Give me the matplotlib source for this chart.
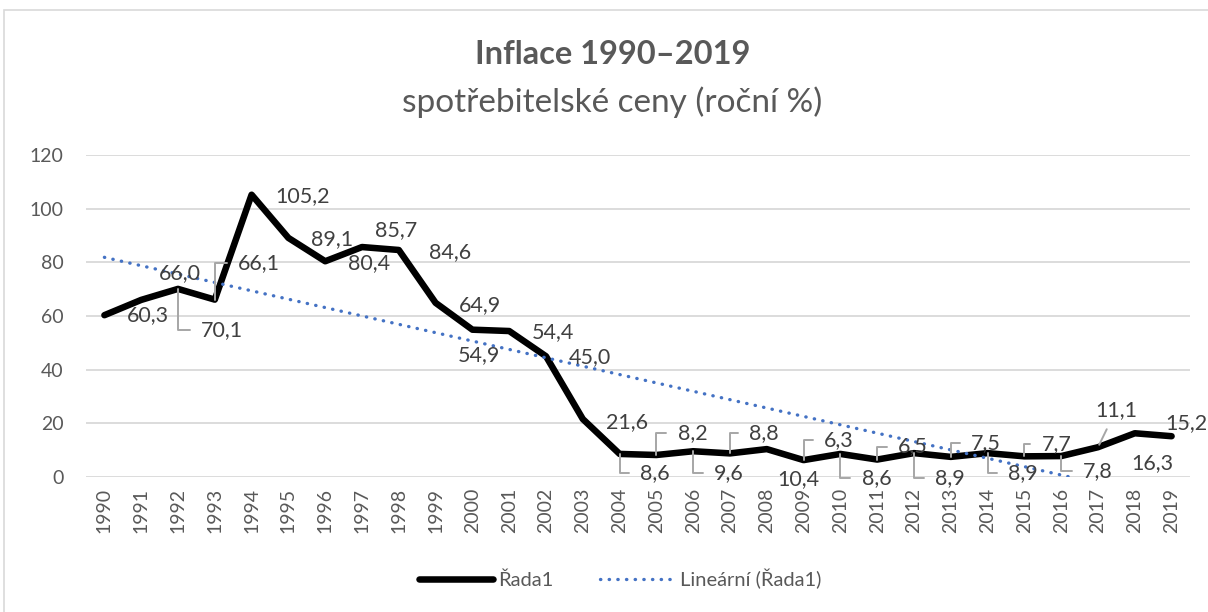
import numpy as np
import matplotlib
matplotlib.use('Agg')
import matplotlib.pyplot as plt
from matplotlib.patches import Rectangle
from matplotlib.lines import Line2D

plt.rcParams['font.family'] = ['Lato', 'DejaVu Sans']

###############################################################################
#### data
###############################################################################
roky = ['1990', '1991', '1992', '1993', '1994', '1995', '1996', '1997', '1998',
        '1999', '2000', '2001', '2002', '2003', '2004', '2005', '2006', '2007',
        '2008', '2009', '2010', '2011', '2012', '2013', '2014', '2015', '2016',
        '2017', '2018', '2019']
inflace = [60.3, 66.0, 70.1, 66.1, 105.2, 89.1, 80.4, 85.7, 84.6, 64.9,
           54.9, 54.4, 45.0, 21.6, 8.6, 8.2, 9.6, 8.8, 10.4, 6.3,
           8.6, 6.5, 8.9, 7.5, 8.9, 7.7, 7.8, 11.1, 16.3, 15.2]
y_ticks = [0, 20, 40, 60, 80, 100, 120]

title = 'Inflace 1990–2019'
subtitle = 'spotřebitelské ceny (roční %)'
serie_name = 'Řada1'
trend_name = 'Lineární (Řada1)'

# label placement, pixels from the point (dx right, dy down), leader type
label_pos = [
    (44, 0, None), (39, -27, None), (44, 41, 'elbow'), (44, -37, 'elbow'),
    (51, 1, None), (44, 1, None), (44, 2, None), (34, -17, None),
    (51, 2, None), (44, 2, None), (7, 25, None), (44, 1, None),
    (44, 1, None), (44, 3, None), (35, 19, 'elbow'), (36, -22, 'elbow'),
    (36, 22, 'elbow'), (34, -20, 'elbow'), (32, 30, None), (35, -20, 'elbow'),
    (36, 24, 'elbow'), (36, -13, 'elbow'), (36, 25, 'elbow'), (35, -14, 'elbow'),
    (35, 20, 'elbow'), (32, -12, 'elbow'), (37, 15, 'elbow'), (18, -37, 'line'),
    (18, 30, None), (15, -13, None),
]

TXT = '#595959'
LBL = '#404040'
GRID = '#D9D9D9'
LEAD = '#A6A6A6'
BLUE = '#4472C4'

###############################################################################
#### plot
###############################################################################
fig = plt.figure(figsize=(12.08, 6.12), dpi=100)
ax = fig.add_axes([86/1208, 1-477/612, (1190-86)/1208, (477-155)/612])

x = np.arange(len(inflace))
ax.plot(x, inflace, color='black', lw=4.7, solid_joinstyle='round',
        solid_capstyle='round', zorder=3)

# linear trend (as Excel), cut at the axis minimum
a, b = np.polyfit(x, inflace, 1)
x_end = -b/a
xt = np.array([0, x_end])
ax.plot(xt, a*xt + b, color=BLUE, lw=2.4, linestyle=(0, (0.1, 2.5)),
        dash_capstyle='round', zorder=4)

for i in range(len(inflace)):
    dx, dy, lead = label_pos[i]
    txt = ('%.1f' % inflace[i]).replace('.', ',')
    props = None
    if lead == 'elbow':
        props = dict(arrowstyle='-', color=LEAD, lw=1.4, shrinkA=6, shrinkB=0,
                     connectionstyle='angle,angleA=0,angleB=90,rad=0')
    elif lead == 'line':
        props = dict(arrowstyle='-', color=LEAD, lw=1.4, shrinkA=5, shrinkB=2)
    ax.annotate(txt, (x[i], inflace[i]), xytext=(dx, -dy),
                textcoords='offset pixels', ha='center', va='center',
                fontsize=15.5, color=LBL, arrowprops=props, zorder=5,
                annotation_clip=False)

ax.set_xlim(-0.5, len(inflace) - 0.5)
ax.set_ylim(0, 120)
ax.set_yticks(y_ticks)
ax.set_xticks(x)
ax.set_xticklabels(roky, rotation=90)
ax.tick_params(axis='both', length=0, labelsize=14, labelcolor=TXT)
ax.tick_params(axis='y', pad=16)
ax.tick_params(axis='x', pad=8)
ax.yaxis.grid(True, color=GRID, lw=1.3)
ax.set_axisbelow(True)
for s in ax.spines.values():
    s.set_visible(False)

fig.text(0.507, 1-54/612, title, ha='center', va='center', fontsize=23.5,
         fontweight='bold', color=TXT)
fig.text(0.507, 1-102/612, subtitle, ha='center', va='center', fontsize=24,
         color=TXT)

handles = [Line2D([], [], color='black', lw=4.7, solid_capstyle='round'),
           Line2D([], [], color=BLUE, lw=2.4, linestyle=(0, (0.1, 2.5)),
                  dash_capstyle='round')]
fig.legend(handles, [serie_name, trend_name], loc='center',
           bbox_to_anchor=(620/1208, 1-579/612), ncol=2, frameon=False,
           fontsize=14.5, labelcolor=TXT, handlelength=3.7, handletextpad=0.25,
           columnspacing=2.3)

fig.add_artist(Rectangle((4/1208, -0.05), 1.0, 1-10/612+0.05,
                         transform=fig.transFigure, fill=False, ec=GRID, lw=1.2))

plt.savefig('out.png', dpi=100)
